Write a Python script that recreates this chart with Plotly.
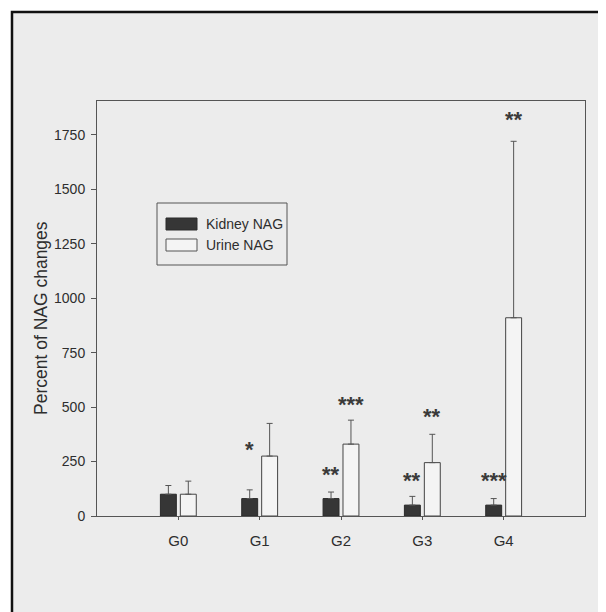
import plotly.graph_objects as go

# ---- data ----
groups = ["G0", "G1", "G2", "G3", "G4"]
kidney_nag = [100, 80, 80, 50, 50]
kidney_err = [40, 40, 30, 40, 30]
urine_nag = [100, 275, 330, 245, 910]
urine_err = [60, 150, 110, 130, 810]
kidney_sig = ["", "*", "**", "**", "***"]
urine_sig = ["", "", "***", "**", "**"]
y_ticks = [0, 250, 500, 750, 1000, 1250, 1500, 1750]

# ---- layout geometry (page pixels; the page body adds an 8px margin) ----
OFF = 8
PAGE_W, PAGE_H = 606, 612
W, H = PAGE_W - OFF, PAGE_H - OFF
PLOT_L, PLOT_R, PLOT_T, PLOT_B = 97, 585, 101, 516   # page coords of the plot box
L, R = PLOT_L - OFF, W - (PLOT_R - OFF)
T, B = PLOT_T - OFF, H - (PLOT_B - OFF)
PW, PH = PLOT_R - PLOT_L, PLOT_B - PLOT_T
FONT = "Liberation Sans, Arial, sans-serif"
INK = "#2e2e2e"

def px(x):
    return (x - PLOT_L) / PW

def py(y):
    return (PLOT_B - y) / PH

xpos = list(range(len(groups)))

fig = go.Figure()
fig.add_trace(go.Bar(
    x=xpos, y=kidney_nag, name="Kidney NAG",
    marker=dict(color="#363636", line=dict(color="#2a2a2a", width=1)),
    error_y=dict(type="data", array=kidney_err, arrayminus=[0] * len(groups),
                 symmetric=False, color="#555555", thickness=1, width=3),
    showlegend=False,
))
fig.add_trace(go.Bar(
    x=xpos, y=urine_nag, name="Urine NAG",
    marker=dict(color="#f4f4f4", line=dict(color="#444444", width=1)),
    error_y=dict(type="data", array=urine_err, arrayminus=[0] * len(groups),
                 symmetric=False, color="#555555", thickness=1, width=3),
    showlegend=False,
))

# significance stars above the error bars
kidney_gap = [24, 46, 24, 22, 24]
urine_gap = [24, 24, 22, 24, 28]
offset = 0.245  # group slot width per bar, in category units
star_font = dict(family=FONT, size=22, color="#3a3a3a")
annotations = []
for i in xpos:
    if kidney_sig[i]:
        annotations.append(dict(
            x=i - offset / 2, y=kidney_nag[i] + kidney_err[i], xref="x", yref="y",
            text="<b>" + kidney_sig[i] + "</b>", showarrow=False, yanchor="middle",
            yshift=kidney_gap[i] - 6, font=star_font,
        ))
    if urine_sig[i]:
        annotations.append(dict(
            x=i + offset / 2, y=urine_nag[i] + urine_err[i], xref="x", yref="y",
            text="<b>" + urine_sig[i] + "</b>", showarrow=False, yanchor="middle",
            yshift=urine_gap[i] - 6, font=star_font,
        ))

# y-axis title
annotations.append(dict(
    x=px(41), y=py(318), xref="paper", yref="paper", text="Percent of NAG changes",
    textangle=-90, showarrow=False, xanchor="center", yanchor="middle",
    font=dict(family=FONT, size=17.5, color=INK),
))

# manual legend
legend_items = [("Kidney NAG", "#363636", "#2a2a2a", 224),
                ("Urine NAG", "#f4f4f4", "#555555", 245)]
shapes = [
    # scanned page frame
    dict(type="rect", xref="paper", yref="paper", x0=px(12), x1=px(660),
         y0=py(12), y1=py(680), fillcolor="#ececec",
         line=dict(color="#111111", width=2.5), layer="below"),
    # legend box
    dict(type="rect", xref="paper", yref="paper", x0=px(157), x1=px(287),
         y0=py(203), y1=py(265), fillcolor="rgba(0,0,0,0)",
         line=dict(color="#555555", width=1)),
]
for label, fill, edge, cy in legend_items:
    shapes.append(dict(type="rect", xref="paper", yref="paper",
                       x0=px(166), x1=px(197), y0=py(cy - 6), y1=py(cy + 6),
                       fillcolor=fill, line=dict(color=edge, width=1)))
    annotations.append(dict(x=px(204), y=py(cy), xref="paper", yref="paper",
                            text=label, showarrow=False, xanchor="left",
                            yanchor="middle",
                            font=dict(family=FONT, size=14, color=INK)))

fig.update_layout(
    width=W, height=H,
    margin=dict(l=L, r=R, t=T, b=B, pad=0),
    paper_bgcolor="white",
    plot_bgcolor="rgba(0,0,0,0)",
    barmode="group", bargap=0.51, bargroupgap=0.2,
    font=dict(family=FONT, color=INK, size=13),
    shapes=shapes,
    annotations=annotations,
    xaxis=dict(
        range=[-1, 5], tickmode="array", tickvals=xpos, ticktext=groups,
        ticks="outside", ticklen=3, tickcolor="#555555",
        showline=True, linecolor="#555555", linewidth=1, mirror=True,
        showgrid=False, zeroline=False,
        tickfont=dict(family=FONT, size=15, color=INK),
        ticklabelstandoff=8,
    ),
    yaxis=dict(
        range=[0, 1905], tickmode="array", tickvals=y_ticks,
        ticks="outside", ticklen=5, tickcolor="#555555",
        showline=True, linecolor="#555555", linewidth=1, mirror=True,
        showgrid=False, zeroline=False,
        tickfont=dict(family=FONT, size=14, color=INK),
        ticklabelstandoff=3,
    ),
)

fig.write_html("out.html")
